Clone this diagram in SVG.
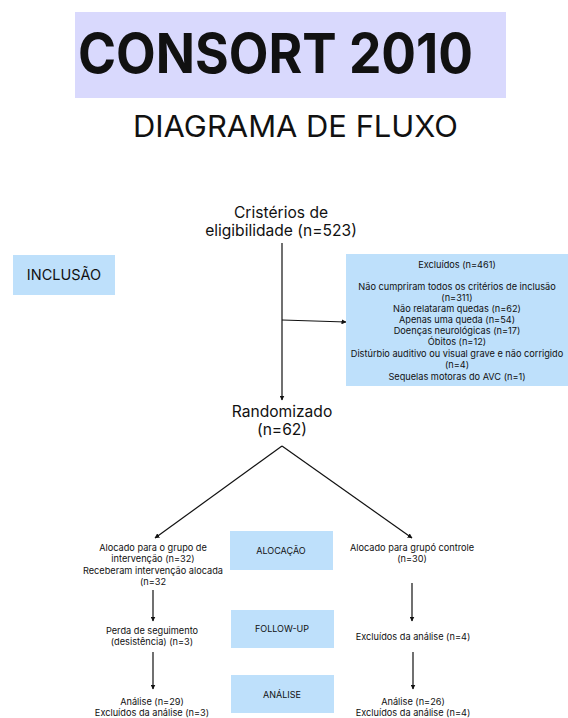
<svg xmlns="http://www.w3.org/2000/svg" width="568" height="718" viewBox="0 0 568 718">
<defs>
<marker id="ah" viewBox="0 0 10 10" refX="9" refY="5" markerWidth="5" markerHeight="5" orient="auto-start-reverse" markerUnits="userSpaceOnUse">
<path d="M0,0 L10,5 L0,10 z" fill="#111"/>
</marker>
<style>
text{font-family:"Inter","Liberation Sans",sans-serif;fill:#111;}
.t{text-anchor:middle;font-size:15.6px;}
.s{text-anchor:middle;font-size:9.2px;}
.lb{text-anchor:middle;font-size:9px;}
.box{fill:#bee0fb;}
.ln{stroke:#111;stroke-width:1.2;fill:none;marker-end:url(#ah);}
</style>
</defs>
<rect width="568" height="718" fill="#ffffff"/>
<g id="title">
<rect x="75" y="12" width="431" height="86" fill="#d9d9fd"/>
<text x="78" y="73" font-size="55" font-weight="700" textLength="395" lengthAdjust="spacingAndGlyphs">CONSORT 2010</text>
<text x="133" y="137" font-size="30" textLength="325" lengthAdjust="spacingAndGlyphs">DIAGRAMA DE FLUXO</text>
</g>
<g id="connectors">
<line class="ln" x1="282" y1="243" x2="282" y2="400"/>
<line class="ln" x1="282" y1="320" x2="346" y2="322"/>
<line class="ln" x1="282" y1="446" x2="155" y2="538"/>
<line class="ln" x1="282" y1="446" x2="412" y2="538"/>
<line class="ln" x1="153" y1="590" x2="153" y2="621"/>
<line class="ln" x1="412" y1="583" x2="412" y2="621"/>
<line class="ln" x1="153" y1="652" x2="153" y2="689"/>
<line class="ln" x1="413" y1="652" x2="413" y2="689"/>
</g>
<g id="eligibilidade">
<text class="t" x="281" y="218">Cristérios de</text>
<text class="t" x="281" y="236">eligibilidade (n=523)</text>
</g>
<g id="inclusao">
<rect class="box" x="13" y="255" width="102" height="40"/>
<text x="64" y="280" font-size="14.5" text-anchor="middle">INCLUSÃO</text>
</g>
<g id="excluidos">
<rect class="box" x="346" y="254" width="222" height="132"/>
<text class="s" x="457" y="268">Excluídos (n=461)</text>
<text class="s" x="457" y="290">Não cumpriram todos os critérios de inclusão</text>
<text class="s" x="457" y="301">(n=311)</text>
<text class="s" x="457" y="312">Não relataram quedas (n=62)</text>
<text class="s" x="457" y="323">Apenas uma queda (n=54)</text>
<text class="s" x="457" y="334">Doenças neurológicas (n=17)</text>
<text class="s" x="457" y="345">Óbitos (n=12)</text>
<text class="s" x="457" y="357">Distúrbio auditivo ou visual grave e não corrigido</text>
<text class="s" x="457" y="368">(n=4)</text>
<text class="s" x="457" y="380">Sequelas motoras do AVC (n=1)</text>
</g>
<g id="randomizado">
<text class="t" x="282" y="417">Randomizado</text>
<text class="t" x="282" y="435">(n=62)</text>
</g>
<g id="intervencao">
<text class="s" x="153" y="551">Alocado para o grupo de</text>
<text class="s" x="153" y="562">intervenção (n=32)</text>
<text class="s" x="153" y="574">Receberam intervenção alocada</text>
<text class="s" x="153" y="585">(n=32</text>
</g>
<g id="alocacao">
<rect class="box" x="230" y="531" width="103" height="39"/>
<text class="lb" x="281" y="554">ALOCAÇÃO</text>
</g>
<g id="controle">
<text class="s" x="412" y="551">Alocado para grupó controle</text>
<text class="s" x="412" y="562">(n=30)</text>
</g>
<g id="perda">
<text class="s" x="152" y="634">Perda de seguimento</text>
<text class="s" x="152" y="645">(desistência) (n=3)</text>
</g>
<g id="followup">
<rect class="box" x="231" y="610" width="103" height="38"/>
<text class="lb" x="282" y="632">FOLLOW-UP</text>
</g>
<g id="excluidos-controle">
<text class="s" x="413" y="640">Excluídos da análise (n=4)</text>
</g>
<g id="analise">
<rect class="box" x="231" y="675" width="103" height="38"/>
<text class="lb" x="282" y="698">ANÁLISE</text>
</g>
<g id="analise-intervencao">
<text class="s" x="152" y="705">Análise (n=29)</text>
<text class="s" x="152" y="716">Excluídos da análise (n=3)</text>
</g>
<g id="analise-controle">
<text class="s" x="413" y="705">Análise (n=26)</text>
<text class="s" x="413" y="716">Excluídos da análise (n=4)</text>
</g>
</svg>
